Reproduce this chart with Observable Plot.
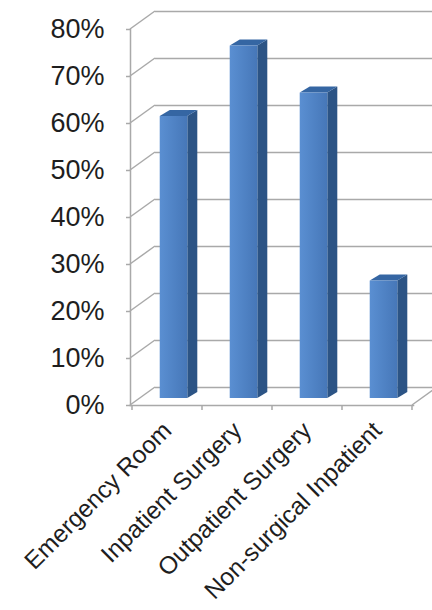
<!DOCTYPE html>
<html>
<head>
<meta charset="utf-8">
<script src="https://cdn.jsdelivr.net/npm/d3@7"></script>
<script src="https://cdn.jsdelivr.net/npm/@observablehq/plot@0.6"></script>
<style>
  html, body { margin: 0; padding: 0; background: #fff; }
  #chart svg { display: block; }
</style>
</head>
<body>
<div id="chart"></div>
<script>
const categories = ["Emergency Room", "Inpatient Surgery", "Outpatient Surgery", "Non-surgical Inpatient"];
const values = [0.60, 0.75, 0.65, 0.25];
const yTicks = [0, 0.1, 0.2, 0.3, 0.4, 0.5, 0.6, 0.7, 0.8];

const rows = categories.map((c, i) => ({category: c, value: values[i]}));

const WALL_DX = 25, WALL_DY = -18;   // depth of the back wall
const BAR_DX = 10, BAR_DY = -6;      // depth of each bar
const BAR_SHIFT = -7;                // bars sit slightly behind the floor's front edge
const GRID = "#a9a9a9";
const FONT = "'Liberation Sans', Arial, sans-serif";

function bandwidthOf(s, dims) {
  if (typeof s.bandwidth === "function") return s.bandwidth();
  if (typeof s.bandwidth === "number") return s.bandwidth;
  return (dims.width - dims.marginLeft - dims.marginRight) / categories.length;
}

// left-wall diagonals from the axis to the back wall
function wallDiagonals(index, scales, values, dims) {
  const g = d3.create("svg:g").attr("stroke", GRID).attr("stroke-width", 1.5).attr("fill", "none");
  const x0 = dims.marginLeft;
  for (const i of index) {
    const y = scales.y(yTicks[i]);
    g.append("path").attr("d", `M${x0},${y}L${x0 + WALL_DX},${y + WALL_DY}`);
  }
  return g.node();
}

// floor: right diagonal and category boundary ticks
function floorMarks(index, scales, values, dims) {
  const g = d3.create("svg:g").attr("stroke", GRID).attr("stroke-width", 1.5).attr("fill", "none");
  const bw = bandwidthOf(scales.x, dims);
  const y0 = scales.y(0);
  const xs = categories.map(c => scales.x(c));
  xs.push(xs[xs.length - 1] + bw);
  for (const x of xs) g.append("path").attr("d", `M${x},${y0}L${x},${y0 + 5}`);
  const xe = xs[xs.length - 1];
  g.append("path").attr("d", `M${xe},${y0}L${xe + WALL_DX},${y0 + WALL_DY}`);
  return g.node();
}

function bars3d(index, scales, values, dims, context) {
  const g = d3.create("svg:g");
  const defs = g.append("defs");
  const grad = defs.append("linearGradient").attr("id", "barFront").attr("x1", "0").attr("x2", "1").attr("y1", "0").attr("y2", "0");
  grad.append("stop").attr("offset", "0%").attr("stop-color", "#5a8fd2");
  grad.append("stop").attr("offset", "100%").attr("stop-color", "#4677b8");
  const bw = bandwidthOf(scales.x, dims);
  const y0 = scales.y(0) + BAR_SHIFT;
  for (const i of index) {
    const d = rows[i];
    const bx = scales.x(d.category);
    const xl = bx + bw * 0.396, xr = bx + bw * 0.79;
    const yt = scales.y(d.value) + BAR_SHIFT;
    g.append("path")
      .attr("d", `M${xr},${yt}L${xr + BAR_DX},${yt + BAR_DY}L${xr + BAR_DX},${y0 + BAR_DY}L${xr},${y0}Z`)
      .attr("fill", "#2c5485");
    g.append("path")
      .attr("d", `M${xl},${yt}L${xl + BAR_DX},${yt + BAR_DY}L${xr + BAR_DX},${yt + BAR_DY}L${xr},${yt}Z`)
      .attr("fill", "#3566a3");
    g.append("rect")
      .attr("x", xl).attr("y", yt).attr("width", xr - xl).attr("height", y0 - yt)
      .attr("fill", "url(#barFront)");
  }
  return g.node();
}

const chart = Plot.plot({
  width: 432,
  height: 610,
  marginLeft: 130,
  marginRight: 19,
  marginTop: 29,
  marginBottom: 205,
  style: {fontFamily: FONT, color: "#1e1e1e", background: "#fff"},
  x: {type: "band", domain: categories, padding: 0},
  y: {domain: [0, 0.8]},
  marks: [
    Plot.ruleY(yTicks, {dx: WALL_DX, dy: WALL_DY, stroke: GRID, strokeWidth: 1.5}),
    Plot.ruleY(yTicks, {render: wallDiagonals}),
    Plot.frame({anchor: "left", stroke: GRID, strokeWidth: 1.5}),
    Plot.frame({anchor: "bottom", stroke: GRID, strokeWidth: 1.5}),
    Plot.ruleY([0], {render: floorMarks}),
    Plot.axisY({ticks: yTicks, tickFormat: d3.format(".0%"), tickSize: 4, tickPadding: 22, fontSize: 27, stroke: GRID, strokeWidth: 1.5, fill: "#1e1e1e", label: null}),
    Plot.axisX({tickSize: 0, tickPadding: 21, tickRotate: -45, fontSize: 24.5, fill: "#1e1e1e", label: null}),
    Plot.barY(rows, {x: "category", y: "value", render: bars3d})
  ]
});
document.getElementById("chart").append(chart);
</script>
</body>
</html>
